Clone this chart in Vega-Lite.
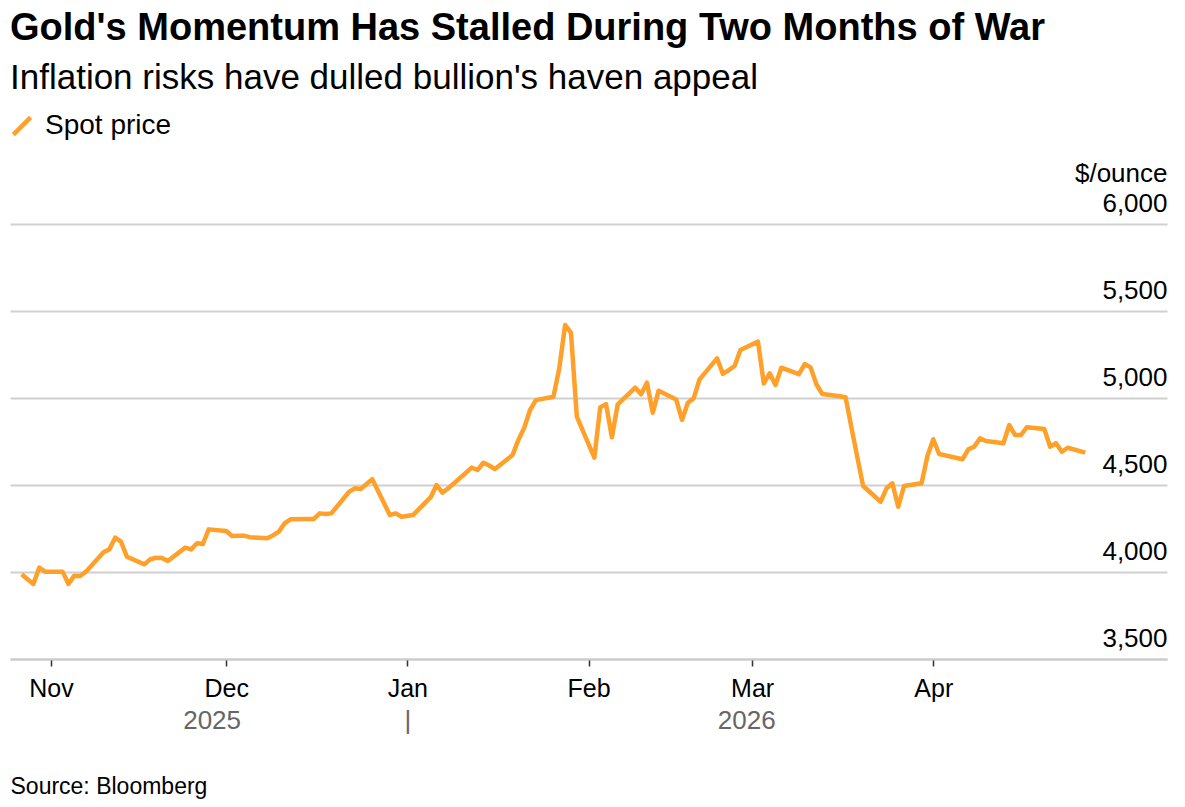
{
  "$schema": "https://vega.github.io/schema/vega-lite/v6.json",
  "width": 1157,
  "height": 435,
  "autosize": {"type": "none"},
  "padding": {"left": 10, "top": 224, "right": 18, "bottom": 148},
  "background": "white",
  "title": {
    "text": "Gold's Momentum Has Stalled During Two Months of War",
    "subtitle": "Inflation risks have dulled bullion's haven appeal",
    "anchor": "start",
    "frame": "group",
    "font": "Liberation Sans",
    "fontSize": 38,
    "fontWeight": "bold",
    "color": "#000000",
    "subtitleFont": "Liberation Sans",
    "subtitleFontSize": 35,
    "subtitleColor": "#000000",
    "subtitlePadding": 13,
    "offset": 16
  },
  "datasets": {
    "gold": [
      {"date": "2025-10-27", "price": 3987},
      {"date": "2025-10-28", "price": 3958},
      {"date": "2025-10-29", "price": 3931},
      {"date": "2025-10-30", "price": 4025},
      {"date": "2025-10-31", "price": 4002},
      {"date": "2025-11-03", "price": 4002},
      {"date": "2025-11-04", "price": 3931},
      {"date": "2025-11-05", "price": 3979},
      {"date": "2025-11-06", "price": 3977},
      {"date": "2025-11-07", "price": 4002},
      {"date": "2025-11-10", "price": 4113},
      {"date": "2025-11-11", "price": 4130},
      {"date": "2025-11-12", "price": 4197},
      {"date": "2025-11-13", "price": 4174},
      {"date": "2025-11-14", "price": 4088},
      {"date": "2025-11-17", "price": 4044},
      {"date": "2025-11-18", "price": 4073},
      {"date": "2025-11-19", "price": 4082},
      {"date": "2025-11-20", "price": 4080},
      {"date": "2025-11-21", "price": 4063},
      {"date": "2025-11-24", "price": 4140},
      {"date": "2025-11-25", "price": 4130},
      {"date": "2025-11-26", "price": 4165},
      {"date": "2025-11-27", "price": 4161},
      {"date": "2025-11-28", "price": 4245},
      {"date": "2025-12-01", "price": 4236},
      {"date": "2025-12-02", "price": 4207},
      {"date": "2025-12-03", "price": 4208},
      {"date": "2025-12-04", "price": 4209},
      {"date": "2025-12-05", "price": 4200},
      {"date": "2025-12-08", "price": 4194},
      {"date": "2025-12-09", "price": 4210},
      {"date": "2025-12-10", "price": 4232},
      {"date": "2025-12-11", "price": 4280},
      {"date": "2025-12-12", "price": 4303},
      {"date": "2025-12-15", "price": 4304},
      {"date": "2025-12-16", "price": 4305},
      {"date": "2025-12-17", "price": 4337},
      {"date": "2025-12-18", "price": 4333},
      {"date": "2025-12-19", "price": 4337},
      {"date": "2025-12-22", "price": 4460},
      {"date": "2025-12-23", "price": 4481},
      {"date": "2025-12-24", "price": 4477},
      {"date": "2025-12-26", "price": 4533},
      {"date": "2025-12-29", "price": 4328},
      {"date": "2025-12-30", "price": 4337},
      {"date": "2025-12-31", "price": 4318},
      {"date": "2026-01-02", "price": 4328},
      {"date": "2026-01-05", "price": 4430},
      {"date": "2026-01-06", "price": 4500},
      {"date": "2026-01-07", "price": 4456},
      {"date": "2026-01-08", "price": 4481},
      {"date": "2026-01-09", "price": 4510},
      {"date": "2026-01-12", "price": 4600},
      {"date": "2026-01-13", "price": 4586},
      {"date": "2026-01-14", "price": 4628},
      {"date": "2026-01-15", "price": 4612},
      {"date": "2026-01-16", "price": 4592},
      {"date": "2026-01-19", "price": 4672},
      {"date": "2026-01-20", "price": 4759},
      {"date": "2026-01-21", "price": 4829},
      {"date": "2026-01-22", "price": 4931},
      {"date": "2026-01-23", "price": 4988},
      {"date": "2026-01-26", "price": 5007},
      {"date": "2026-01-27", "price": 5171},
      {"date": "2026-01-28", "price": 5420},
      {"date": "2026-01-29", "price": 5375},
      {"date": "2026-01-30", "price": 4893},
      {"date": "2026-02-02", "price": 4657},
      {"date": "2026-02-03", "price": 4946},
      {"date": "2026-02-04", "price": 4965},
      {"date": "2026-02-05", "price": 4774},
      {"date": "2026-02-06", "price": 4964},
      {"date": "2026-02-09", "price": 5059},
      {"date": "2026-02-10", "price": 5021},
      {"date": "2026-02-11", "price": 5088},
      {"date": "2026-02-12", "price": 4915},
      {"date": "2026-02-13", "price": 5042},
      {"date": "2026-02-16", "price": 4992},
      {"date": "2026-02-17", "price": 4874},
      {"date": "2026-02-18", "price": 4973},
      {"date": "2026-02-19", "price": 4998},
      {"date": "2026-02-20", "price": 5107},
      {"date": "2026-02-23", "price": 5228},
      {"date": "2026-02-24", "price": 5138},
      {"date": "2026-02-25", "price": 5160},
      {"date": "2026-02-26", "price": 5184},
      {"date": "2026-02-27", "price": 5276},
      {"date": "2026-03-02", "price": 5324},
      {"date": "2026-03-03", "price": 5084},
      {"date": "2026-03-04", "price": 5142},
      {"date": "2026-03-05", "price": 5075},
      {"date": "2026-03-06", "price": 5174},
      {"date": "2026-03-09", "price": 5137},
      {"date": "2026-03-10", "price": 5195},
      {"date": "2026-03-11", "price": 5176},
      {"date": "2026-03-12", "price": 5079},
      {"date": "2026-03-13", "price": 5023},
      {"date": "2026-03-16", "price": 5010},
      {"date": "2026-03-17", "price": 5004},
      {"date": "2026-03-18", "price": 4830},
      {"date": "2026-03-19", "price": 4660},
      {"date": "2026-03-20", "price": 4494},
      {"date": "2026-03-23", "price": 4404},
      {"date": "2026-03-24", "price": 4481},
      {"date": "2026-03-25", "price": 4510},
      {"date": "2026-03-26", "price": 4375},
      {"date": "2026-03-27", "price": 4494},
      {"date": "2026-03-30", "price": 4510},
      {"date": "2026-03-31", "price": 4667},
      {"date": "2026-04-01", "price": 4763},
      {"date": "2026-04-02", "price": 4678},
      {"date": "2026-04-06", "price": 4648},
      {"date": "2026-04-07", "price": 4705},
      {"date": "2026-04-08", "price": 4720},
      {"date": "2026-04-09", "price": 4768},
      {"date": "2026-04-10", "price": 4753},
      {"date": "2026-04-13", "price": 4740},
      {"date": "2026-04-14", "price": 4845},
      {"date": "2026-04-15", "price": 4787},
      {"date": "2026-04-16", "price": 4787},
      {"date": "2026-04-17", "price": 4832},
      {"date": "2026-04-20", "price": 4822},
      {"date": "2026-04-21", "price": 4720},
      {"date": "2026-04-22", "price": 4740},
      {"date": "2026-04-23", "price": 4691},
      {"date": "2026-04-24", "price": 4714},
      {"date": "2026-04-27", "price": 4686}
    ],
    "years": [
      {"date": "2025-11-28T12:00:00", "label": "2025"},
      {"date": "2026-01-01T00:00:00", "label": "|"},
      {"date": "2026-02-28T00:00:00", "label": "2026"}
    ]
  },
  "layer": [
    {
      "data": {"name": "gold"},
      "mark": {"type": "line", "strokeWidth": 4.5, "strokeJoin": "round"},
      "encoding": {
        "x": {
          "field": "date",
          "type": "temporal",
          "scale": {"domain": [{"year": 2025, "month": 10, "date": 25}, {"year": 2026, "month": 5, "date": 11}]},
          "axis": {
            "title": null,
            "orient": "bottom",
            "values": [
              {"year": 2025, "month": 11, "date": 1},
              {"year": 2025, "month": 12, "date": 1},
              {"year": 2026, "month": 1, "date": 1},
              {"year": 2026, "month": 2, "date": 1},
              {"year": 2026, "month": 3, "date": 1},
              {"year": 2026, "month": 4, "date": 1}
            ],
            "format": "%b",
            "grid": false,
            "domain": true,
            "domainColor": "#cccccc",
            "domainWidth": 2,
            "ticks": true,
            "tickColor": "#333333",
            "tickSize": 7,
            "tickWidth": 1.5,
            "labelPadding": 10,
            "labelFont": "Liberation Sans",
            "labelFontSize": 25,
            "labelColor": "#000000",
            "labelFlush": false,
            "labelOverlap": false
          }
        },
        "y": {
          "field": "price",
          "type": "quantitative",
          "scale": {"domain": [3500, 6000], "nice": false, "zero": false},
          "axis": {
            "orient": "right",
            "values": [3500, 4000, 4500, 5000, 5500, 6000],
            "format": ",.0f",
            "grid": true,
            "gridColor": "#d0d0d0",
            "gridWidth": 2,
            "domain": false,
            "ticks": false,
            "tickSize": 0,
            "labelAlign": "right",
            "labelBaseline": "alphabetic",
            "labelPadding": 0,
            "labelOffset": -13,
            "labelFont": "Liberation Sans",
            "labelFontSize": 26,
            "labelColor": "#000000",
            "title": "$/ounce",
            "titleAngle": 0,
            "titleAlign": "right",
            "titleBaseline": "alphabetic",
            "titleX": 0,
            "titleY": -43,
            "titleFont": "Liberation Sans",
            "titleFontSize": 26,
            "titleFontWeight": "normal",
            "titleColor": "#000000"
          }
        },
        "color": {
          "datum": "Spot price",
          "type": "nominal",
          "scale": {"range": ["#ffa02b"]},
          "legend": {
            "title": null,
            "orient": "none",
            "legendX": -2,
            "legendY": -112,
            "symbolType": "M-1,1L1,-1",
            "symbolSize": 300,
            "symbolStrokeWidth": 4.5,
            "labelFont": "Liberation Sans",
            "labelFontSize": 28,
            "labelColor": "#000000",
            "labelOffset": 9,
            "padding": 0
          }
        }
      }
    },
    {
      "data": {"name": "years"},
      "mark": {"type": "tick", "opacity": 0},
      "encoding": {
        "x": {
          "field": "date",
          "type": "temporal",
          "axis": {
            "orient": "bottom",
            "values": [
              {"year": 2025, "month": 11, "date": 28, "hours": 12},
              {"year": 2026, "month": 1, "date": 1},
              {"year": 2026, "month": 2, "date": 28}
            ],
            "labelExpr": "year(datum.value) == 2025 ? '2025' : (month(datum.value) == 0 ? '|' : '2026')",
            "grid": false,
            "domain": false,
            "ticks": false,
            "tickSize": 0,
            "labelPadding": 48,
            "labelFont": "Liberation Sans",
            "labelFontSize": 26,
            "labelColor": "#666666",
            "labelFlush": false,
            "labelOverlap": false,
            "title": "Source: Bloomberg",
            "titleAnchor": "start",
            "titleAlign": "left",
            "titleFont": "Liberation Sans",
            "titleFontSize": 23,
            "titleFontWeight": "normal",
            "titleColor": "#000000",
            "titlePadding": 42
          }
        }
      }
    }
  ],
  "resolve": {"axis": {"x": "independent"}},
  "config": {
    "view": {"stroke": null},
    "font": "Liberation Sans"
  }
}
